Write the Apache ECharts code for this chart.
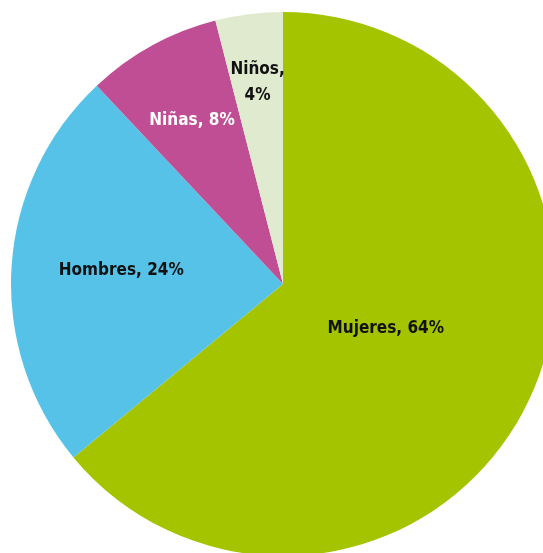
<!DOCTYPE html>
<html>
<head>
<meta charset="utf-8">
<script src="https://cdn.jsdelivr.net/npm/echarts@6/dist/echarts.min.js"></script>
<style>
html,body{margin:0;padding:0;background:#fff;}
#chart{width:543px;height:553px;}
</style>
</head>
<body>
<div id="chart"></div>
<script>
const categories = ['Mujeres', 'Hombres', 'Niñas', 'Niños'];
const values = [64, 24, 8, 4];
const labelTexts = ['Mujeres, 64%', 'Hombres, 24%', 'Niñas, 8%', 'Niños,\n4%'];

const colors = ['#a5c400', '#56c2e8', '#bf4e94', '#e0eacf'];
const labelColors = ['#111111', '#111111', '#ffffff', '#111111'];
const labelShift = [[-23, -15], [-23, -5], [-24, -42], [-8, -64]];

const chart = echarts.init(document.getElementById('chart'));
chart.setOption({
  animation: false,
  series: [{
    type: 'pie',
    center: [283, 284],
    radius: [0, 272],
    startAngle: 90,
    clockwise: true,
    silent: true,
    avoidLabelOverlap: false,
    label: {
      show: true,
      position: 'inside',
      fontFamily: '"DejaVu Sans Condensed", "Liberation Sans", sans-serif',
      fontWeight: 'bold',
      fontSize: 17,
      lineHeight: 26,
      align: 'center',
      formatter: p => labelTexts[p.dataIndex]
    },
    labelLine: { show: false },
    labelLayout: p => ({ dx: labelShift[p.dataIndex][0], dy: labelShift[p.dataIndex][1] }),
    data: categories.map((c, i) => ({
      name: c,
      value: values[i],
      itemStyle: { color: colors[i], borderWidth: 0 },
      label: { color: labelColors[i] }
    }))
  }]
});
</script>
</body>
</html>
